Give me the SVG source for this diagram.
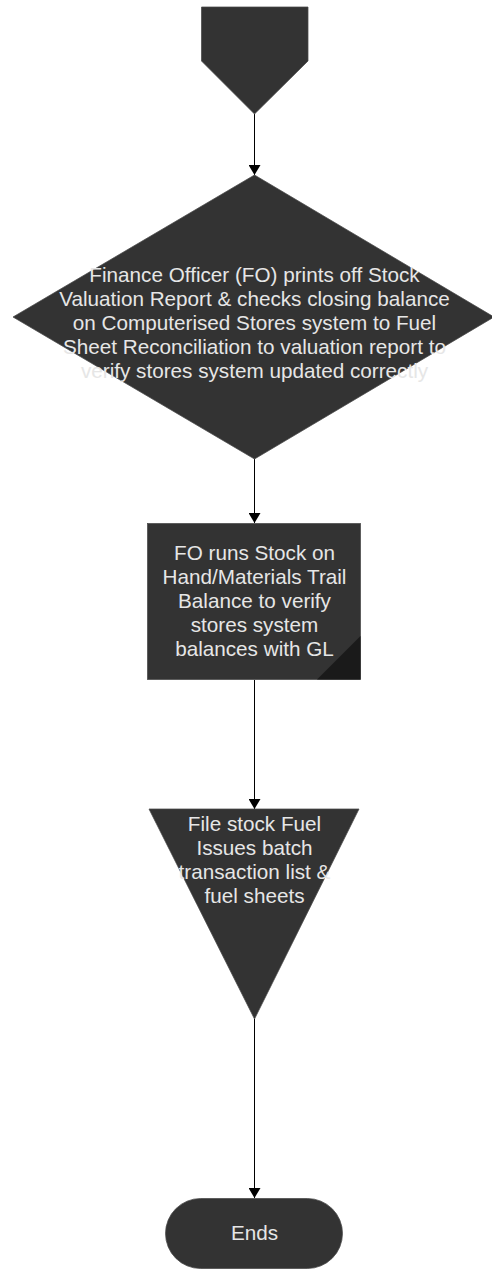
<svg xmlns="http://www.w3.org/2000/svg" width="492" height="1269" viewBox="0 0 492 1269">
<defs>
<style>
.shape{fill:#333333;stroke:#4a4a4a;stroke-width:0.75}
.lbl{font-family:"Liberation Sans",Arial,sans-serif;font-size:20.7px;fill:#e6e6e6;text-anchor:middle}
.conn{stroke:#000;stroke-width:1;fill:none;marker-end:url(#arr)}
</style>
<marker id="arr" viewBox="0 0 10 12" refX="10" refY="6" markerWidth="10" markerHeight="12" markerUnits="userSpaceOnUse" orient="auto">
<path d="M0,0 L10,6 L0,12 Z" fill="#000"/>
</marker>
</defs>
<rect width="492" height="1269" fill="#ffffff"/>
<g id="connectors">
<line class="conn" x1="254.5" y1="114" x2="254.5" y2="175"/>
<line class="conn" x1="254.5" y1="459" x2="254.5" y2="523"/>
<line class="conn" x1="254.5" y1="680" x2="254.5" y2="809"/>
<line class="conn" x1="254.5" y1="1019" x2="254.5" y2="1198"/>
</g>
<g id="start">
<polygon class="shape" points="201.5,7 308,7 308,61 254.5,114 201.5,61"/>
</g>
<g id="decision">
<polygon class="shape" points="254.5,175 494,317 254.5,459 13,317"/>
<text class="lbl" x="254.5" y="282">Finance Officer (FO) prints off Stock</text>
<text class="lbl" x="254.5" y="306">Valuation Report &amp; checks closing balance</text>
<text class="lbl" x="254.5" y="330">on Computerised Stores system to Fuel</text>
<text class="lbl" x="254.5" y="354">Sheet Reconciliation to valuation report to</text>
<text class="lbl" x="254.5" y="378">verify stores system updated correctly</text>
</g>
<g id="process">
<rect class="shape" x="147.5" y="523.5" width="213" height="156"/>
<polygon points="317,679.5 360.5,636 360.5,679.5" fill="#1a1a1a"/>
<text class="lbl" x="254.5" y="560">FO runs Stock on</text>
<text class="lbl" x="254.5" y="584">Hand/Materials Trail</text>
<text class="lbl" x="254.5" y="608">Balance to verify</text>
<text class="lbl" x="254.5" y="632">stores system</text>
<text class="lbl" x="254.5" y="656">balances with GL</text>
</g>
<g id="file">
<polygon class="shape" points="149,809 359,809 254.5,1019"/>
<text class="lbl" x="254.5" y="831">File stock Fuel</text>
<text class="lbl" x="254.5" y="855">Issues batch</text>
<text class="lbl" x="254.5" y="879">transaction list &amp;</text>
<text class="lbl" x="254.5" y="903">fuel sheets</text>
</g>
<g id="end">
<rect class="shape" x="165.5" y="1198.5" width="177" height="70" rx="35" ry="35"/>
<text class="lbl" x="254.5" y="1240">Ends</text>
</g>
</svg>
